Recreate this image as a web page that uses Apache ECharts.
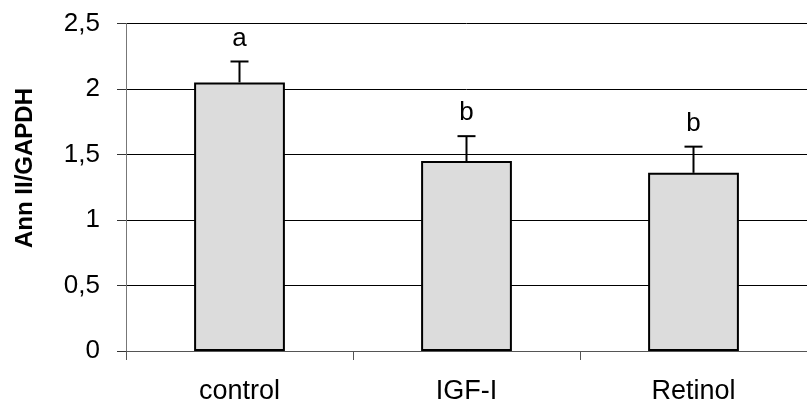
<!DOCTYPE html>
<html>
<head>
<meta charset="utf-8">
<script src="https://cdn.jsdelivr.net/npm/echarts@6/dist/echarts.min.js"></script>
<style>
  html, body { margin: 0; padding: 0; background: #fff; }
  #chart { width: 807px; height: 412px; }
</style>
</head>
<body>
<div id="chart"></div>
<script>
// data
var categories = ['control', 'IGF-I', 'Retinol'];
var means = [2.05, 1.45, 1.36];
var errors = [0.16, 0.19, 0.20];
var letters = ['a', 'b', 'b'];
var yTicks = [0, 0.5, 1, 1.5, 2, 2.5];

var font = 'Liberation Sans, Arial, sans-serif';

var myChart = echarts.init(document.getElementById('chart'));

// error bar + letter data: [index, mean, err]
var errData = categories.map(function (c, i) {
    return [i, means[i], errors[i]];
});

var option = {
    animation: false,
    grid: {
        left: 126,
        right: -9,
        top: 23.5,
        bottom: 61
    },
    graphic: [{
        type: 'text',
        x: 25,
        y: 168,
        rotation: Math.PI / 2,
        style: {
            text: 'Ann II/GAPDH',
            font: 'bold 24px ' + font,
            fill: '#000',
            align: 'center',
            verticalAlign: 'middle'
        }
    }],
    xAxis: {
        type: 'category',
        data: categories,
        axisLine: { lineStyle: { color: '#555', width: 1 } },
        axisTick: { show: true, length: 9, lineStyle: { color: '#555' } },
        axisLabel: { color: '#000', fontSize: 27, fontFamily: font, margin: 27 }
    },
    yAxis: {
        type: 'value',
        min: yTicks[0],
        max: yTicks[yTicks.length - 1],
        interval: 0.5,
        axisLine: { show: true, lineStyle: { color: '#777', width: 1 } },
        axisTick: { show: true, length: 9, lineStyle: { color: '#333' } },
        axisLabel: {
            color: '#000', fontSize: 26, fontFamily: font, margin: 26,
            formatter: function (v) { return String(v).replace('.', ','); }
        },
        splitLine: { show: true, lineStyle: { color: '#000', width: 1 } }
    },
    series: [
        {
            type: 'bar',
            data: means,
            barWidth: '40%',
            itemStyle: { color: '#dcdcdc', borderColor: '#000', borderWidth: 2 }
        },
        {
            type: 'custom',
            data: errData,
            z: 5,
            renderItem: function (params, api) {
                var i = api.value(0);
                var m = api.value(1);
                var e = api.value(2);
                var base = api.coord([i, m]);
                var top = api.coord([i, m + e]);
                var half = 9;
                return {
                    type: 'group',
                    children: [
                        { type: 'line', shape: { x1: base[0], y1: base[1], x2: top[0], y2: top[1] },
                          style: { stroke: '#000', lineWidth: 2 } },
                        { type: 'line', shape: { x1: top[0] - half, y1: top[1], x2: top[0] + half, y2: top[1] },
                          style: { stroke: '#000', lineWidth: 2 } },
                        { type: 'text', x: top[0], y: top[1] - 10,
                          style: { text: letters[params.dataIndex], font: '26px ' + font, fill: '#000',
                                   align: 'center', verticalAlign: 'bottom' } }
                    ]
                };
            }
        }
    ]
};
myChart.setOption(option);
</script>
</body>
</html>
